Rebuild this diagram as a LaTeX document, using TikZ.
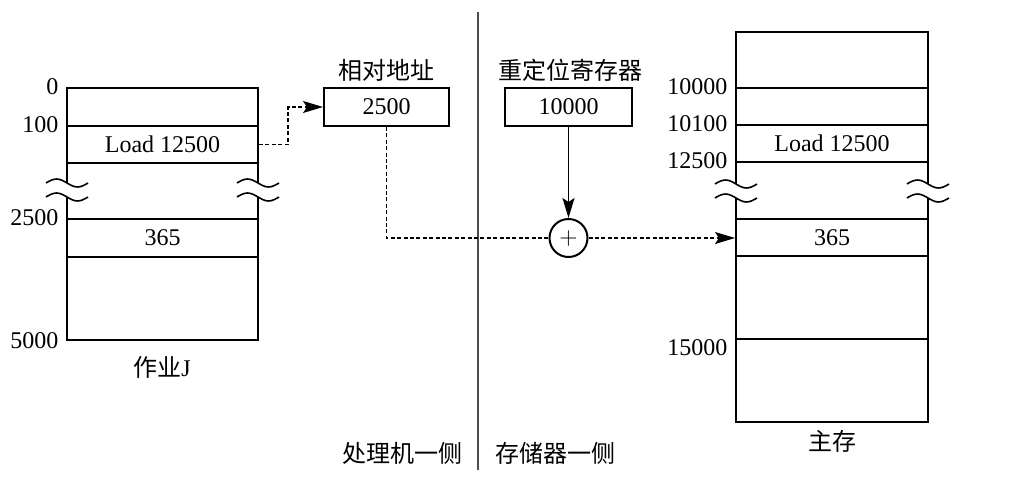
\documentclass[tikz,border=0pt]{standalone}
\usepackage{fontspec}
\setmainfont{Liberation Serif}
\newfontfamily\cjk{Noto Sans CJK SC}
\usetikzlibrary{arrows.meta}

% break mark across a box edge at (x,y)
\newcommand{\breakmark}[2]{%
  \fill[white] (#1-4,#2-7) rectangle (#1+4,#2+7);
  \draw[line width=0.8pt] (#1-21,#2-7) sin (#1-10.5,#2-11) cos (#1,#2-7) sin (#1+10.5,#2-3) cos (#1+21,#2-7);
  \draw[line width=0.8pt] (#1-21,#2+7) sin (#1-10.5,#2+3) cos (#1,#2+7) sin (#1+10.5,#2+11) cos (#1+21,#2+7);
}

\begin{document}
\begin{tikzpicture}[x=0.5pt,y=-0.5pt,line width=1pt,font=\fontsize{12}{14}\selectfont,
  cell/.style={draw, minimum width=95.5pt, inner sep=0pt},
  regbox/.style={draw, minimum height=19pt, inner sep=0pt},
  dashline/.style={dash pattern=on 2pt off 1.2pt, line width=0.7pt},
  tip/.style={-{Stealth[length=10pt,width=6pt,inset=2pt]}}]

\useasboundingbox (0,0) rectangle (1024,477);

% job J
\node[cell, minimum height=19pt]   (jA) at (162.5,107)   {};
\node[cell, minimum height=18.5pt] (jB) at (162.5,144.5) {Load 12500};
\node[cell, minimum height=28pt]   (jC) at (162.5,191)   {};
\node[cell, minimum height=19pt]   (jD) at (162.5,238)   {365};
\node[cell, minimum height=41.5pt] (jE) at (162.5,298.5) {};
\breakmark{67}{190}
\breakmark{258}{190}

\node[left] at (jA.north west) {0};
\node[left] at (jB.north west) {100};
\node[left] at (jD.north west) {2500};
\node[left] at (jE.south west) {5000};
\node (jobname) at (162,367) {{\cjk 作业}J};

% registers
\node[regbox, minimum width=62.5pt] (rel) at (386.5,107) {2500};
\node[regbox, minimum width=63.5pt] (reg) at (568.5,107) {10000};
\node (relname) at (386.5,70) {\cjk 相对地址};
\node (regname) at (570,70) {\cjk 重定位寄存器};
\node[draw, circle, minimum size=19pt, inner sep=0pt] (sum) at (568.5,238) {$+$};

% main memory
\node[cell, minimum width=96pt, minimum height=28pt]   (mA) at (832,60)    {};
\node[cell, minimum width=96pt, minimum height=18.5pt] (mB) at (832,106.5) {};
\node[cell, minimum width=96pt, minimum height=18.5pt] (mC) at (832,143.5) {Load 12500};
\node[cell, minimum width=96pt, minimum height=28.5pt] (mD) at (832,190.5) {};
\node[cell, minimum width=96pt, minimum height=18.5pt] (mE) at (832,237.5) {365};
\node[cell, minimum width=96pt, minimum height=41.5pt] (mF) at (832,297.5) {};
\node[cell, minimum width=96pt, minimum height=41.5pt] (mG) at (832,380.5) {};
\breakmark{736}{191}
\breakmark{928}{191}

\node[left] at (mB.north west) {10000};
\node[left] at (mC.north west) {10100};
\node[left] at (mD.north west) {12500};
\node[left, yshift=-5pt] at (mG.north west) {15000};
\node (memname) at (832,441) {\cjk 主存};

% divider
\draw[line width=0.7pt, black!70] (478,12) -- (478,470);
\node (cpuside) at (402,453) {\cjk 处理机一侧};
\node (memside) at (555,453) {\cjk 存储器一侧};

% connectors
\draw[dashline, tip] (jB.east) -- ++(29,0) |- (rel.west);
\draw[dashline] (rel.south) |- (sum.west);
\draw[tip, line width=0.8pt] (reg.south) -- (sum.north);
\draw[dashline, tip] (sum.east) -- (sum.east -| mE.west);

\end{tikzpicture}
\end{document}
